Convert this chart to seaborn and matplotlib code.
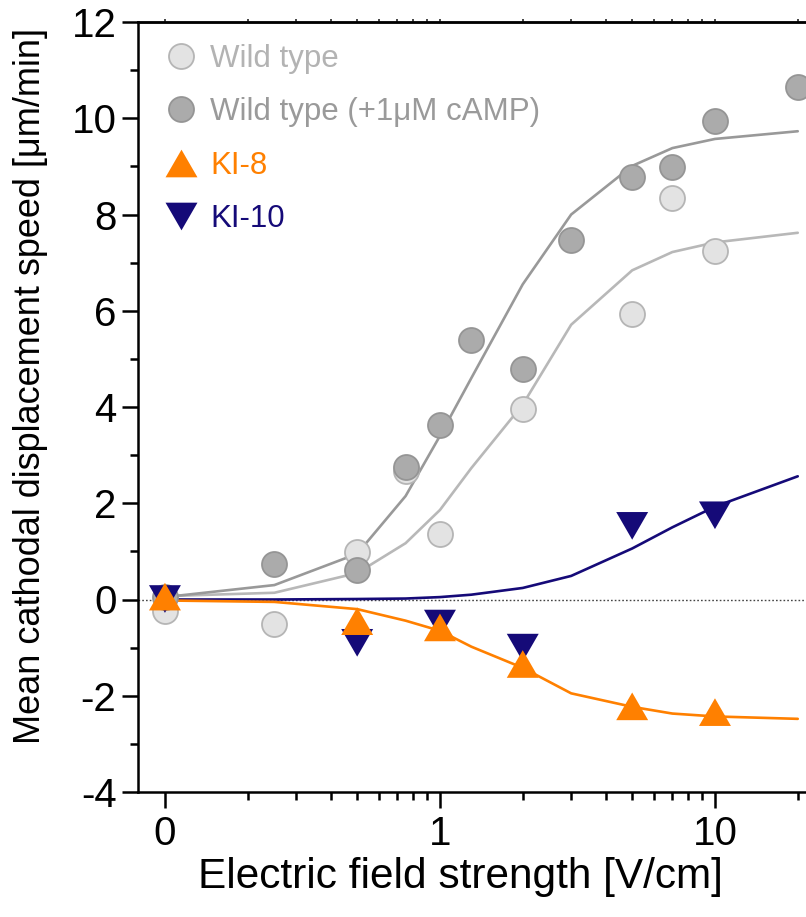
import matplotlib
matplotlib.use("Agg")
import matplotlib.pyplot as plt
from matplotlib.lines import Line2D
import seaborn as sns
import numpy as np
import pandas as pd

# ---------------- data ----------------
# x = 0 is drawn at 0.1 on the log axis (labelled "0")
x_wt = [0.1, 0.25, 0.5, 0.75, 1, 2, 5, 7, 10]
y_wt = [-0.23, -0.51, 0.99, 2.66, 1.36, 3.96, 5.93, 8.35, 7.25]

x_camp = [0.1, 0.25, 0.5, 0.75, 1, 1.3, 2, 3, 5, 7, 10, 20]
y_camp = [0.05, 0.74, 0.62, 2.75, 3.63, 5.39, 4.79, 7.47, 8.78, 8.99, 9.95, 10.65]

x_ki = [0.1, 0.5, 1, 2, 5, 10]
y_ki8 = [0.06, -0.45, -0.58, -1.34, -2.22, -2.34]
y_ki10 = [0.01, -0.90, -0.50, -1.00, 1.53, 1.75]

x_fit = [0.1, 0.25, 0.5, 0.75, 1, 1.3, 2, 3, 5, 7, 10, 20]
fit_wt = [0.07, 0.14, 0.55, 1.17, 1.86, 2.73, 4.05, 5.71, 6.84, 7.22, 7.42, 7.62]
fit_camp = [0.05, 0.30, 0.95, 2.15, 3.40, 4.60, 6.55, 8.00, 9.01, 9.38, 9.57, 9.73]
fit_ki8 = [-0.02, -0.05, -0.20, -0.44, -0.65, -0.98, -1.42, -1.95, -2.23, -2.37, -2.43, -2.48]
fit_ki10 = [0.0, 0.0, 0.01, 0.02, 0.05, 0.10, 0.24, 0.49, 1.06, 1.50, 1.93, 2.56]

labels = ["Wild type", "Wild type (+1\u03bcM cAMP)", "KI-8", "KI-10"]
xtick_vals = [0.1, 1, 10]
xtick_labels = ["0", "1", "10"]
xtick_minor = [0.2, 0.3, 0.4, 0.5, 0.6, 0.7, 0.8, 0.9, 2, 3, 4, 5, 6, 7, 8, 9, 20]
ytick_vals = [-4, -2, 0, 2, 4, 6, 8, 10, 12]
ytick_minor = [-3, -1, 1, 3, 5, 7, 9, 11]

# ---------------- style ----------------
sns.set_theme(style="ticks")
plt.rcParams["font.family"] = ["Liberation Sans", "DejaVu Sans"]
plt.rcParams["axes.linewidth"] = 1.8
plt.rcParams["axes.unicode_minus"] = False

c_wt_fill, c_wt_edge, c_wt_line, c_wt_text = "#e3e3e3", "#b5b5b5", "#b8b8b8", "#b3b3b3"
c_cp_fill, c_cp_edge, c_cp_line, c_cp_text = "#ababab", "#959595", "#999999", "#9a9a9a"
c_or = "#ff8000"
c_nv = "#150a78"

tri_up = [(0, 0.866), (-1, -0.866), (1, -0.866), (0, 0.866)]
tri_dn = [(0, -0.866), (-1, 0.866), (1, 0.866), (0, -0.866)]

W, H = 806, 917
fig = plt.figure(figsize=(W / 100, H / 100), dpi=100)
ax = fig.add_axes([138 / W, 125 / H, 668 / W, 770 / H])
ax.set_xscale("log")

# zero line
ax.axhline(0, color="#444444", lw=1.0, ls=(0, (1.2, 1.5)), zorder=1)

# fit lines
sns.lineplot(x=x_fit, y=fit_wt, color=c_wt_line, lw=1.9, ax=ax, zorder=2)
sns.lineplot(x=x_fit, y=fit_camp, color=c_cp_line, lw=1.9, ax=ax, zorder=2)
sns.lineplot(x=x_fit, y=fit_ki10, color=c_nv, lw=1.9, ax=ax, zorder=2)
sns.lineplot(x=x_fit, y=fit_ki8, color=c_or, lw=1.9, ax=ax, zorder=2)

# points
sns.scatterplot(x=x_wt, y=y_wt, s=324, color=c_wt_fill, edgecolor=c_wt_edge,
                linewidth=1.3, ax=ax, zorder=3)
sns.scatterplot(x=x_camp, y=y_camp, s=324, color=c_cp_fill, edgecolor=c_cp_edge,
                linewidth=1.3, ax=ax, zorder=4)
sns.scatterplot(x=x_ki, y=y_ki10, s=529, marker=tri_dn, color=c_nv, edgecolor="none",
                linewidth=0, ax=ax, zorder=5)
sns.scatterplot(x=x_ki, y=y_ki8, s=529, marker=tri_up, color=c_or, edgecolor="none",
                linewidth=0, ax=ax, zorder=6)

# axes
ax.set_xlim(10 ** (-1.098), 10 ** 1.331)
ax.set_ylim(-4, 12)
ax.set_xticks(xtick_vals)
ax.set_xticklabels(xtick_labels)
ax.set_xticks(xtick_minor, minor=True)
ax.set_yticks(ytick_vals)
ax.set_yticks(ytick_minor, minor=True)
ax.tick_params(axis="both", which="major", length=11.5, width=1.8, labelsize=29, direction="out",
               color="black", labelcolor="black", pad=4)
ax.tick_params(axis="x", which="major", pad=5)
ax.tick_params(axis="both", which="minor", length=6, width=1.8, direction="out", color="black")
for sp in ax.spines.values():
    sp.set_color("black")
ax.spines["right"].set_visible(False)
ax.grid(False)

# small ticks on the top spine
sec = ax.secondary_xaxis("top")
sec.set_xticks(xtick_vals)
sec.set_xticks(xtick_minor, minor=True)
sec.tick_params(axis="x", which="both", length=2.5, width=1.2, labeltop=False, direction="out")
sec.spines["top"].set_linewidth(1.8)

ax.set_xlabel("Electric field strength [V/cm]", labelpad=3, fontsize=30.5, color="black", x=0.482)
ax.set_ylabel("Mean cathodal displacement speed [\u03bcm/min]", labelpad=17, fontsize=26,
              color="black", y=0.527)

# legend
handles = [
    Line2D([], [], ls="none", marker="o", ms=18, mfc=c_wt_fill, mec=c_wt_edge, mew=1.3),
    Line2D([], [], ls="none", marker="o", ms=18, mfc=c_cp_fill, mec=c_cp_edge, mew=1.3),
    Line2D([], [], ls="none", marker=tri_up, ms=23, mfc=c_or, mec="none"),
    Line2D([], [], ls="none", marker=tri_dn, ms=23, mfc=c_nv, mec="none"),
]
leg = ax.legend(handles, labels, loc="upper left", bbox_to_anchor=(0.0225, 0.988), frameon=False,
                fontsize=22.5, handlelength=1.0, handletextpad=0.43, labelspacing=0.75,
                borderaxespad=0.0)
for t, c in zip(leg.get_texts(), [c_wt_text, c_cp_text, c_or, c_nv]):
    t.set_color(c)

fig.savefig("out.png", dpi=100)
